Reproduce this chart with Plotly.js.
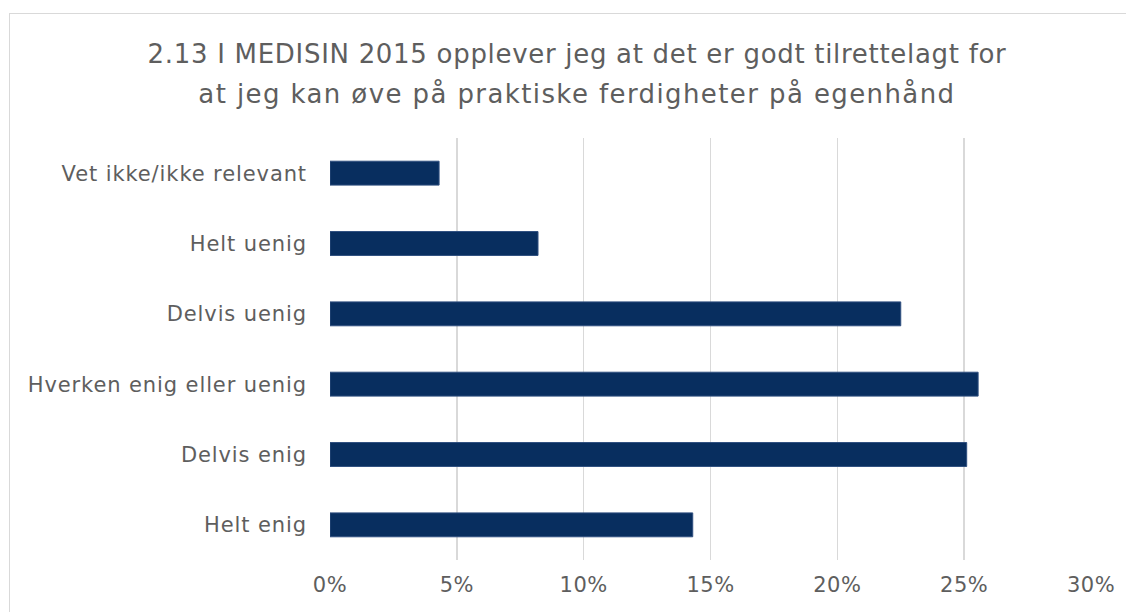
<!DOCTYPE html>
<html>
<head>
<meta charset="utf-8">
<script src="https://cdn.plot.ly/plotly-3.0.1.min.js"></script>
<style>
  html, body { margin: 0; padding: 0; overflow: hidden; background: #ffffff; }
  #wrap { position: relative; width: 1126px; height: 612px; }
  #frame { position: absolute; left: 9px; top: 13px; width: 1140px; height: 640px; border: 1px solid #d9d9d9; box-sizing: border-box; pointer-events: none; }
  #chart { position: absolute; left: 0; top: 0; width: 1126px; height: 612px; }
  #chart .ytick text { letter-spacing: 0.9px; }
  #chart .xtick text { letter-spacing: 0.5px; }
  #chart g.annotation[data-index="0"] text { letter-spacing: 0.7px; }
  #chart g.annotation[data-index="1"] text { letter-spacing: 1.4px; }
</style>
</head>
<body>
<div id="wrap">
  <div id="frame"></div>
  <div id="chart"></div>
</div>
<script>
const categories = [
  "Vet ikke/ikke relevant",
  "Helt uenig",
  "Delvis uenig",
  "Hverken enig eller uenig",
  "Delvis enig",
  "Helt enig"
];
const values = [0.043, 0.082, 0.225, 0.2555, 0.251, 0.143];
const tickVals = [0, 0.05, 0.10, 0.15, 0.20, 0.25, 0.30];
const tickText = ["0%", "5%", "10%", "15%", "20%", "25%", "30%"];
const titleLines = [
  "2.13 I MEDISIN 2015 opplever jeg at det er godt tilrettelagt for",
  "at jeg kan øve på praktiske ferdigheter på egenhånd"
];

const fontFam = "'DejaVu Sans', Verdana, sans-serif";
const textColor = "#5e5e5e";

const trace = {
  type: "bar",
  orientation: "h",
  x: values,
  y: categories,
  width: 0.34,
  marker: { color: "#082e5f", line: { color: "#2f4f7f", width: 1 } },
  hoverinfo: "skip"
};

// plot area: top 138, bottom 560 (height 422); left 330, right 1091
const plotTop = 138, plotBottom = 560, plotLeft = 330, plotRight = 1091;
const toPaperY = py => (plotBottom - py) / (plotBottom - plotTop);
const toPaperX = px => (px - plotLeft) / (plotRight - plotLeft);

const annotations = titleLines.map((t, i) => ({
  text: t,
  xref: "paper", yref: "paper",
  x: toPaperX(577), y: toPaperY(54 + i * 40),
  xanchor: "center", yanchor: "middle",
  showarrow: false,
  font: { family: fontFam, size: 26, color: textColor }
}));

const layout = {
  width: 1126,
  height: 612,
  paper_bgcolor: "rgba(0,0,0,0)",
  plot_bgcolor: "rgba(0,0,0,0)",
  margin: { l: plotLeft, r: 1126 - plotRight, t: plotTop, b: 612 - plotBottom },
  showlegend: false,
  annotations: annotations,
  xaxis: {
    range: [0, 0.30],
    tickvals: tickVals,
    ticktext: tickText,
    showgrid: true,
    gridcolor: "#d9d9d9",
    gridwidth: 1.5,
    zeroline: false,
    showline: false,
    ticks: "",
    ticklabelstandoff: 10,
    tickfont: { family: fontFam, size: 21, color: textColor },
    fixedrange: true
  },
  yaxis: {
    type: "category",
    autorange: "reversed",
    showgrid: false,
    zeroline: false,
    showline: false,
    ticks: "",
    ticklabelstandoff: 22,
    tickfont: { family: fontFam, size: 21, color: textColor },
    fixedrange: true
  }
};

Plotly.newPlot("chart", [trace], layout, { displayModeBar: false, staticPlot: true });
</script>
</body>
</html>
